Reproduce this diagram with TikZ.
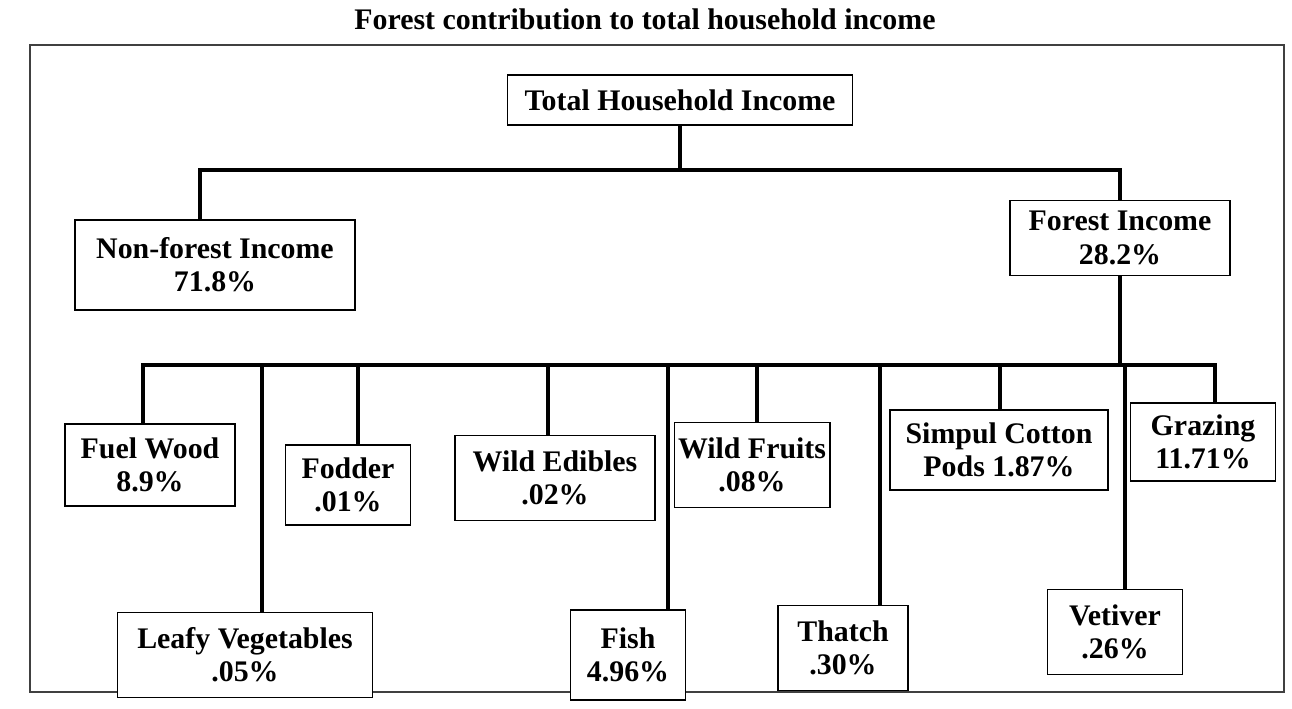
\documentclass[tikz,border=0pt]{standalone}
\usepackage{fontspec}
\setmainfont{Liberation Serif}
\usetikzlibrary{positioning}

\begin{document}
\begin{tikzpicture}[
    font=\bfseries\fontsize{17}{19}\selectfont,
    incbox/.style={draw=black, line width=1.1pt, fill=white, align=center, inner sep=2pt},
    link/.style={draw=black, line width=2.4pt},
    frame/.style={draw=black!75, line width=1pt}
]
    \useasboundingbox (0,0) rectangle (25.84,14.18);

    % Rahmen und Titel
    \draw[frame] (0.6,0.34) rectangle (25.68,13.28);
    \node (title) at (12.9,13.8) {Forest contribution to total household income};

    % Oberste Ebene
    \node[incbox, minimum width=6.9cm, minimum height=1.0cm] (total) at (13.6,12.18) {Total Household Income};

    \node[incbox, minimum width=5.6cm, minimum height=1.8cm] (nonforest) at (4.3,8.88) {Non-forest Income\\71.8\%};
    \node[incbox, minimum width=4.4cm, minimum height=1.5cm] (forest) at (22.4,9.42) {Forest Income\\28.2\%};

    % Waldeinkommen nach Produkt
    \node[incbox, minimum width=3.4cm, minimum height=1.65cm] (fuel) at (3.0,4.88) {Fuel Wood\\8.9\%};
    \node[incbox, minimum width=2.5cm, minimum height=1.6cm] (fodder) at (6.96,4.48) {Fodder\\.01\%};
    \node[incbox, minimum width=4.0cm, minimum height=1.7cm] (edibles) at (11.1,4.62) {Wild Edibles\\.02\%};
    \node[incbox, minimum width=2.8cm, minimum height=1.7cm] (fruits) at (15.04,4.88) {Wild Fruits\\.08\%};
    \node[incbox, minimum width=4.36cm, minimum height=1.6cm] (cotton) at (19.98,5.18) {Simpul Cotton\\Pods 1.87\%};
    \node[incbox, minimum width=2.9cm, minimum height=1.55cm] (grazing) at (24.06,5.34) {Grazing\\11.71\%};

    \node[incbox, minimum width=5.1cm, minimum height=1.7cm] (leafy) at (4.9,1.08) {Leafy Vegetables\\.05\%};
    \node[incbox, minimum width=2.3cm, minimum height=1.8cm] (fish) at (12.56,1.08) {Fish\\4.96\%};
    \node[incbox, minimum width=2.6cm, minimum height=1.7cm] (thatch) at (16.86,1.22) {Thatch\\.30\%};
    \node[incbox, minimum width=2.7cm, minimum height=1.7cm] (vetiver) at (22.3,1.54) {Vetiver\\.26\%};

    % Verbindungen
    \coordinate (bar1) at (13.6,10.78);
    \coordinate (bar2) at (22.4,6.88);

    \draw[link] (total.south) -- (bar1);
    \draw[link] ([xshift=-3mm]nonforest.north) |- (bar1) -| (forest.north);

    \draw[link] (forest.south) -- (bar2);
    \foreach \n/\dx in {fuel/-1.4mm, fodder/2mm, edibles/-1.4mm, fruits/1mm, cotton/0.2mm,
                        grazing/2.4mm, leafy/3.4mm, fish/8mm, thatch/7.4mm, vetiver/2mm}
        \draw[link] ([xshift=\dx]\n.north) |- (bar2);

\end{tikzpicture}
\end{document}
